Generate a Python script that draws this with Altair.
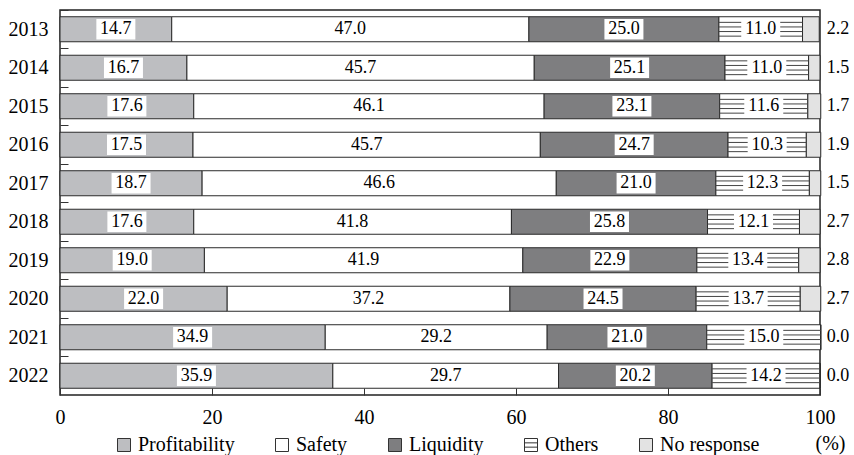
import altair as alt
import pandas as pd

years = ["2013", "2014", "2015", "2016", "2017", "2018", "2019", "2020", "2021", "2022"]
categories = ["Profitability", "Safety", "Liquidity", "Others", "No response"]
profitability = [14.7, 16.7, 17.6, 17.5, 18.7, 17.6, 19.0, 22.0, 34.9, 35.9]
safety = [47.0, 45.7, 46.1, 45.7, 46.6, 41.8, 41.9, 37.2, 29.2, 29.7]
liquidity = [25.0, 25.1, 23.1, 24.7, 21.0, 25.8, 22.9, 24.5, 21.0, 20.2]
others = [11.0, 11.0, 11.6, 10.3, 12.3, 12.1, 13.4, 13.7, 15.0, 14.2]
no_response = [2.2, 1.5, 1.7, 1.9, 1.5, 2.7, 2.8, 2.7, 0.0, 0.0]
series = [profitability, safety, liquidity, others, no_response]

rows = []
for i, yr in enumerate(years):
    start = 0.0
    for cat, vals in zip(categories, series):
        v = vals[i]
        rows.append(dict(year=yr, cat=cat, value=v, start=start, end=start + v, mid=start + v / 2))
        start += v
df = pd.DataFrame(rows)
inner = df[df["cat"] != "No response"]
oth = df[df["cat"] == "Others"]
nores = df[df["cat"] == "No response"]

FONT = "Liberation Serif"
colors = ["#bdbec1", "#ffffff", "#7e7e80", "#ffffff", "#e3e3e3"]
hatch_sym = "M-1,-1H1V1H-1Z M-1,-0.33H1 M-1,0.33H1"
shapes = ["square", "square", "square", hatch_sym, "square"]

x_scale = alt.Scale(domain=[0, 100], nice=False)
x_axis = alt.Axis(
    title="(%)", values=[0, 20, 40, 60, 80, 100], domain=False, grid=False,
    offset=-7, tickSize=7, tickColor="#333", labelPadding=12, labelFlush=False,
    labelFont=FONT, labelFontSize=20, labelColor="black",
    titleFont=FONT, titleFontSize=20, titleFontWeight="normal", titleColor="black",
    titleX=770, titleY=55, titleAlign="center", titleBaseline="middle",
)


def X(field):
    return alt.X(field, type="quantitative", scale=x_scale, axis=x_axis)


y_enc = alt.Y(
    "year:N", sort=years,
    scale=alt.Scale(paddingInner=0.35, paddingOuter=0.175),
    axis=alt.Axis(
        title=None, domain=False, offset=-8, tickSize=8, tickColor="#333",
        bandPosition=0.5, tickOffset=-19.25, labelOffset=19.25, labelPadding=12,
        labelFont=FONT, labelFontSize=20, labelColor="black",
    ),
)

legend = alt.Legend(
    title=None, orient="none", legendX=54, legendY=425, direction="horizontal",
    columns=5, symbolSize=169, symbolStrokeColor="#333", symbolStrokeWidth=1,
    labelFont=FONT, labelFontSize=20, labelColor="black", labelOffset=4,
    columnPadding=37, padding=0,
)
color_enc = alt.Color("cat:N", scale=alt.Scale(domain=categories, range=colors), legend=legend)
shape_enc = alt.Shape("cat:N", scale=alt.Scale(domain=categories, range=shapes), legend=legend)

bars = alt.Chart(df).mark_bar(stroke="#2b2b2b", strokeWidth=1).encode(
    x=X("start"), x2="end", y=y_enc, color=color_enc
)

pts = alt.Chart(inner).mark_point(filled=True, opacity=1, size=20, stroke="#333", strokeWidth=1).encode(
    x=X("mid"), y=y_enc, color=color_enc, shape=shape_enc
)

hatch = [
    alt.Chart(oth).mark_rule(color="#444", strokeWidth=1, yOffset=o).encode(
        x=X("start"), x2="end", y=y_enc
    )
    for o in (-6.9, -2.3, 2.3, 6.9)
]

boxes = alt.Chart(inner).mark_point(
    shape="M-1,-0.525H1V0.525H-1Z", size=1521, filled=True, fill="white", opacity=1, strokeWidth=0
).encode(x=X("mid"), y=y_enc)

labels = alt.Chart(inner).mark_text(font=FONT, fontSize=18, color="black", baseline="middle").encode(
    x=X("mid"), y=y_enc, text=alt.Text("value:Q", format=".1f")
)

nores_text = alt.Chart(nores).mark_text(font=FONT, fontSize=18, color="black", baseline="middle", dx=18).encode(
    x=alt.datum(100), y=y_enc, text=alt.Text("value:Q", format=".1f")
)

chart = alt.layer(bars, pts, *hatch, boxes, labels, nores_text).properties(
    width=760, height=385,
    autosize=alt.AutoSizeParams(type="none"),
    padding={"left": 60, "top": 10, "right": 34, "bottom": 60},
    background="white",
).configure_view(stroke="#222", strokeWidth=1.5)

chart.save("out.html", embed_options={"renderer": "svg", "actions": False})
